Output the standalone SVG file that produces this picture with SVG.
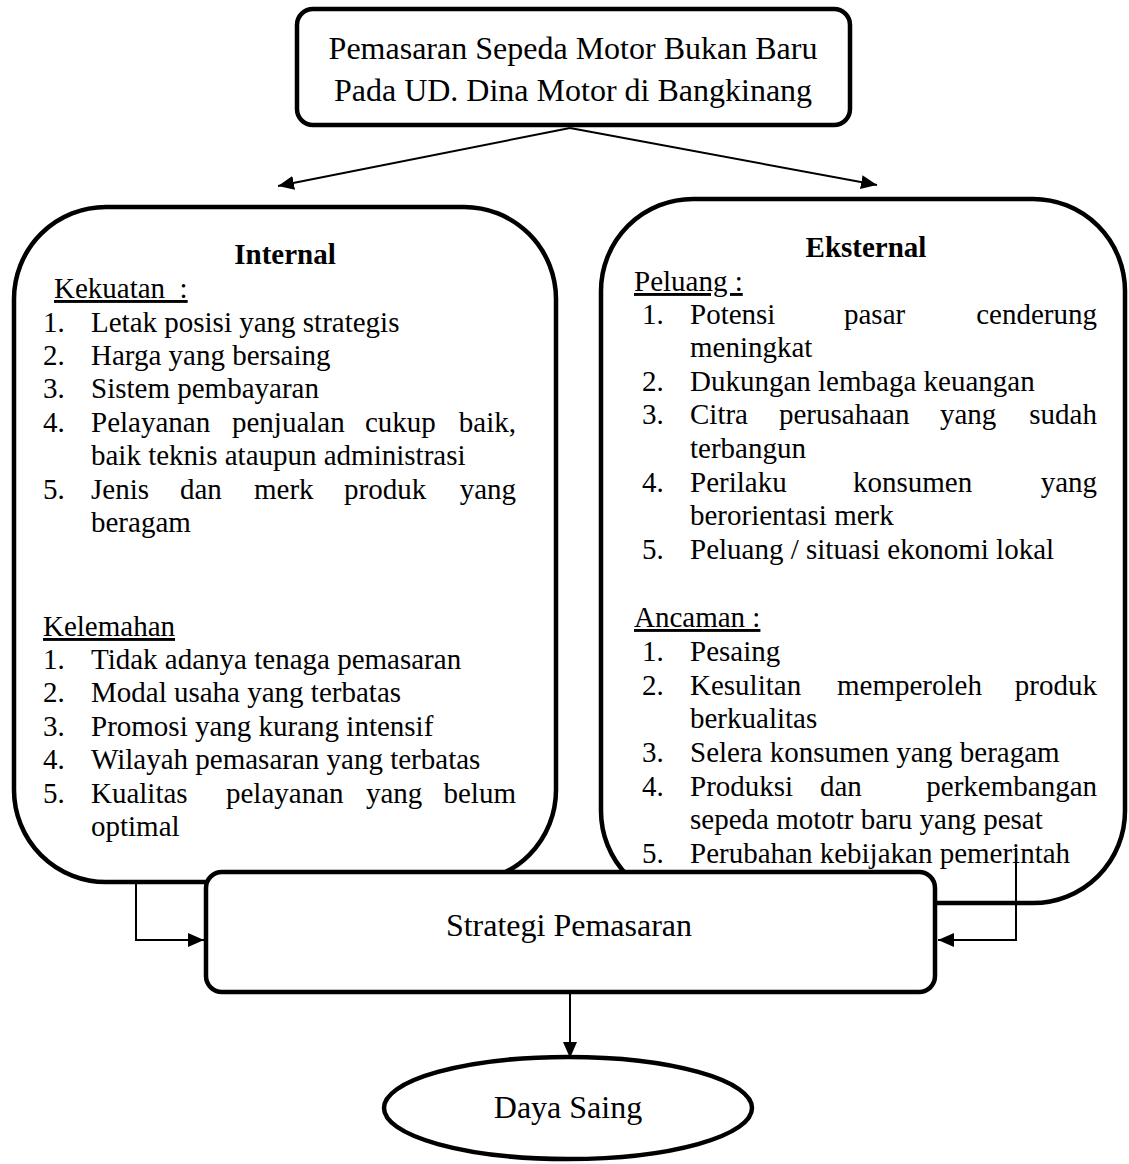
<svg xmlns="http://www.w3.org/2000/svg" width="1129" height="1164" viewBox="0 0 1129 1164">
<style>
.box{fill:#fff;stroke:#000;stroke-width:4.5}
.t{font-family:"Liberation Serif","Times New Roman",serif;font-size:29px;fill:#000}
.b{font-weight:bold}
.c{text-anchor:middle}
.e{text-anchor:end}
.u{text-decoration:underline}
.big{font-size:32px}
.ln{fill:none;stroke:#000;stroke-width:2}
</style>
<defs>
<marker id="ah2" viewBox="0 0 10 10" refX="10" refY="5" markerWidth="16" markerHeight="14" markerUnits="userSpaceOnUse" orient="auto" preserveAspectRatio="none">
<path d="M0,0 L10,5 L0,10 z" fill="#000"/>
</marker>
</defs>

<g id="top">
<rect class="box" x="297" y="9" width="553" height="116" rx="16"/>
<text class="t c big" x="573" y="59">Pemasaran Sepeda Motor Bukan Baru</text>
<text class="t c big" x="573" y="101">Pada UD. Dina Motor di Bangkinang</text>
</g>

<g id="internal">
<rect class="box" x="14" y="207" width="542" height="675" rx="92"/>
<text class="t b c" x="285" y="264">Internal</text>
<text class="t u" x="54" y="298">Kekuatan&#160;&#160;:</text>
<text class="t" x="43" y="332">1.</text><text class="t" x="91" y="332">Letak posisi yang strategis</text>
<text class="t" x="43" y="365">2.</text><text class="t" x="91" y="365">Harga yang bersaing</text>
<text class="t" x="43" y="398">3.</text><text class="t" x="91" y="398">Sistem pembayaran</text>
<text class="t" x="43" y="432">4.</text><text class="t" x="91" y="432">Pelayanan</text><text class="t" x="232" y="432">penjualan</text><text class="t" x="365" y="432">cukup</text><text class="t e" x="516" y="432">baik,</text>
<text class="t" x="91" y="465">baik teknis ataupun administrasi</text>
<text class="t" x="43" y="499">5.</text><text class="t" x="91" y="499">Jenis</text><text class="t" x="180" y="499">dan</text><text class="t" x="254" y="499">merk</text><text class="t" x="344" y="499">produk</text><text class="t e" x="516" y="499">yang</text>
<text class="t" x="91" y="532">beragam</text>
<text class="t u" x="43" y="636">Kelemahan</text>
<text class="t" x="43" y="669">1.</text><text class="t" x="91" y="669">Tidak adanya tenaga pemasaran</text>
<text class="t" x="43" y="702">2.</text><text class="t" x="91" y="702">Modal usaha yang terbatas</text>
<text class="t" x="43" y="736">3.</text><text class="t" x="91" y="736">Promosi yang kurang intensif</text>
<text class="t" x="43" y="769">4.</text><text class="t" x="91" y="769">Wilayah pemasaran yang terbatas</text>
<text class="t" x="43" y="803">5.</text><text class="t" x="91" y="803">Kualitas</text><text class="t" x="226" y="803">pelayanan</text><text class="t" x="366" y="803">yang</text><text class="t e" x="516" y="803">belum</text>
<text class="t" x="91" y="836">optimal</text>
</g>

<g id="external">
<rect class="box" x="601" y="199" width="524" height="704" rx="92"/>
<text class="t b c" x="866" y="257">Eksternal</text>
<text class="t u" x="634" y="291">Peluang :</text>
<text class="t" x="642" y="324">1.</text><text class="t" x="690" y="324">Potensi</text><text class="t" x="844" y="324">pasar</text><text class="t e" x="1097" y="324">cenderung</text>
<text class="t" x="690" y="357">meningkat</text>
<text class="t" x="642" y="391">2.</text><text class="t" x="690" y="391">Dukungan lembaga keuangan</text>
<text class="t" x="642" y="424">3.</text><text class="t" x="690" y="424">Citra</text><text class="t" x="779" y="424">perusahaan</text><text class="t" x="940" y="424">yang</text><text class="t e" x="1097" y="424">sudah</text>
<text class="t" x="690" y="458">terbangun</text>
<text class="t" x="642" y="492">4.</text><text class="t" x="690" y="492">Perilaku</text><text class="t" x="853" y="492">konsumen</text><text class="t e" x="1097" y="492">yang</text>
<text class="t" x="690" y="525">berorientasi merk</text>
<text class="t" x="642" y="559">5.</text><text class="t" x="690" y="559">Peluang / situasi ekonomi lokal</text>
<text class="t u" x="634" y="627">Ancaman :</text>
<text class="t" x="642" y="661">1.</text><text class="t" x="690" y="661">Pesaing</text>
<text class="t" x="642" y="695">2.</text><text class="t" x="690" y="695">Kesulitan</text><text class="t" x="837" y="695">memperoleh</text><text class="t e" x="1097" y="695">produk</text>
<text class="t" x="690" y="728">berkualitas</text>
<text class="t" x="642" y="762">3.</text><text class="t" x="690" y="762">Selera konsumen yang beragam</text>
<text class="t" x="642" y="796">4.</text><text class="t" x="690" y="796">Produksi</text><text class="t" x="820" y="796">dan</text><text class="t e" x="1097" y="796">perkembangan</text>
<text class="t" x="690" y="829">sepeda mototr baru yang pesat</text>
</g>

<g id="strategi">
<rect class="box" x="206" y="872" width="729" height="120" rx="16"/>
<text class="t c big" x="569" y="936">Strategi Pemasaran</text>
</g>
<text class="t" x="642" y="863">5.</text><text class="t" x="690" y="863">Perubahan kebijakan pemerintah</text>

<g id="daya-saing">
<ellipse class="box" cx="568" cy="1108" rx="184" ry="51"/>
<text class="t c big" x="568" y="1118">Daya Saing</text>
</g>

<g id="connectors">
<path class="ln" d="M570,128 L278,186" marker-end="url(#ah2)"/>
<path class="ln" d="M570,128 L877,185" marker-end="url(#ah2)"/>
<path class="ln" d="M136,884 L136,940 L204,940" marker-end="url(#ah2)"/>
<path class="ln" d="M1016,848 L1016,940 L938,940" marker-end="url(#ah2)"/>
<path class="ln" d="M570,993 L570,1058" marker-end="url(#ah2)"/>
</g>
</svg>
